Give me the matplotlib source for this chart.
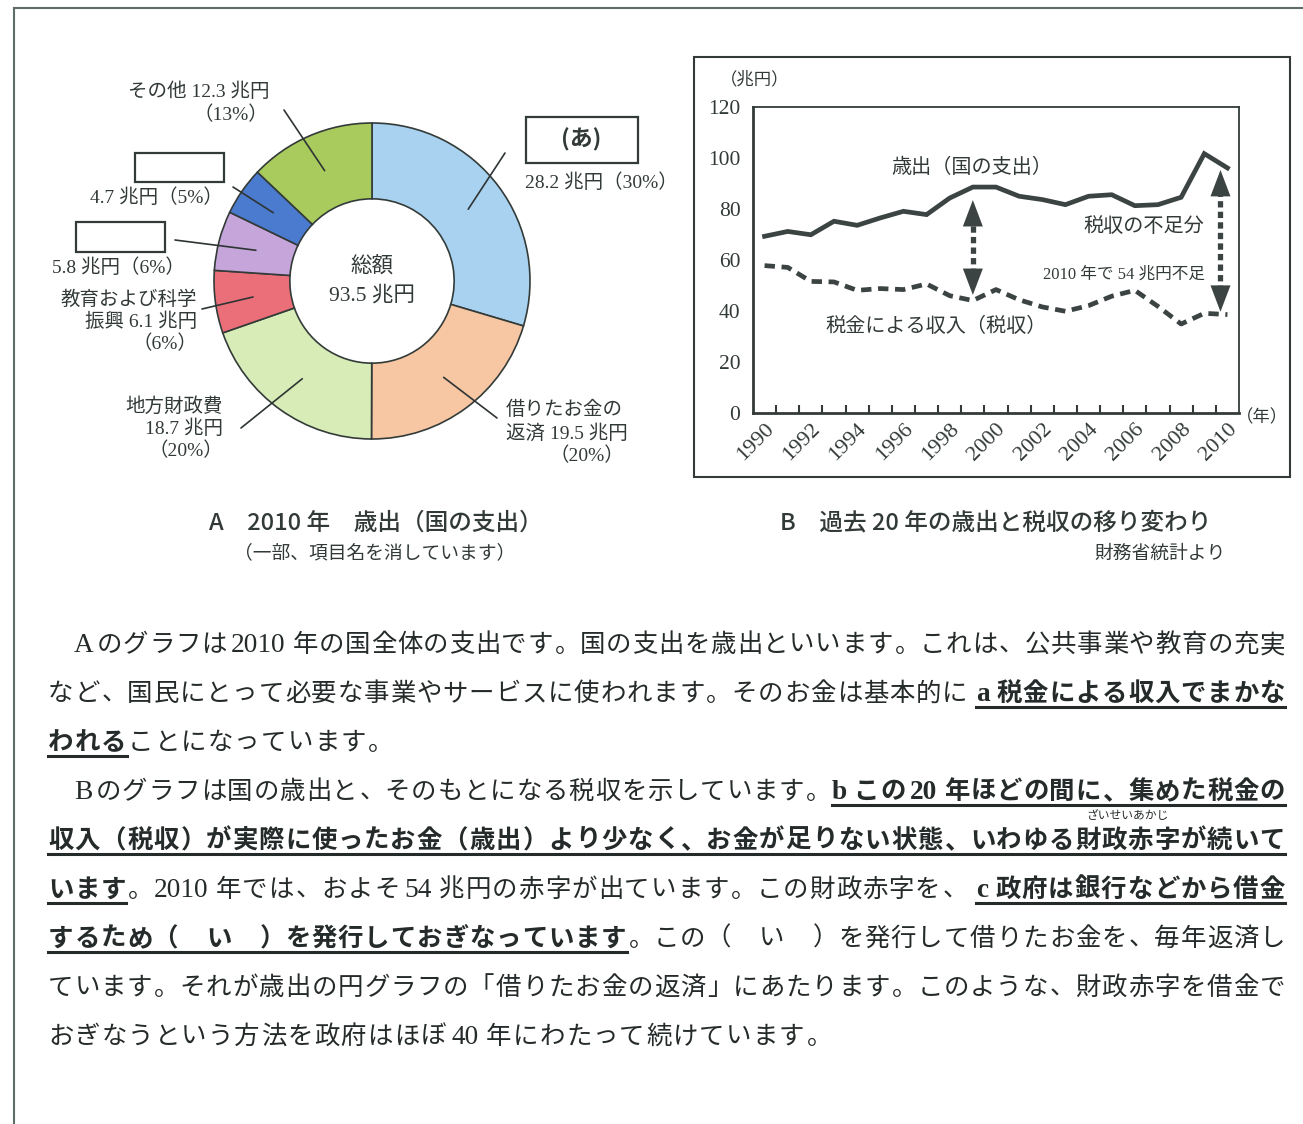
import numpy as np
import matplotlib
matplotlib.use("Agg")
import matplotlib.pyplot as plt
from matplotlib.patches import Rectangle
from matplotlib.lines import Line2D

W, H = 1303, 1124
JP = ["Noto Sans CJK JP", "DejaVu Sans"]
MIX = ["Liberation Serif", "Noto Sans CJK JP", "DejaVu Sans"]
INK = "#323a38"

# --- data: A (2010 expenditure, trillion yen) ---
pie_values = [28.2, 19.5, 18.7, 6.1, 5.8, 4.7, 12.3]
pie_colors = ["#a9d2f1", "#f7c6a3", "#d7ecb6", "#ea6f79", "#c6a6da", "#4b7bcf", "#a9cb5d"]

# --- data: B (expenditure vs tax revenue) ---
years = list(range(1990, 2011))
expenditure = [69.3, 71.2, 69.9, 75.2, 73.6, 76.5, 79.1, 77.8, 84.3, 88.6, 88.6,
               85.0, 83.7, 81.7, 85.0, 85.6, 81.3, 81.7, 84.6, 101.7, 96.1]
tax_revenue = [57.8, 57.1, 51.6, 51.4, 48.1, 48.8, 48.4, 50.6, 46.0, 44.1, 48.4,
               44.4, 41.6, 39.9, 42.1, 45.8, 48.1, 41.8, 34.9, 39.1, 38.6]
gap_arrows = [(9, 46.3, 83.5), (19.7, 39.7, 95.3)]


def P(x, y):
    # pixel (from top-left) -> figure fraction
    return x / W, 1 - y / H


fig = plt.figure(figsize=(W / 100, H / 100), dpi=100)
fig.patch.set_facecolor("white")

# page border (top + left)
fig.add_artist(Line2D([14 / W, 1], [1 - 8 / H, 1 - 8 / H], color="#5f6d69", lw=1.5))
fig.add_artist(Line2D([14 / W, 14 / W], [0, 1 - 8 / H], color="#5f6d69", lw=1.5))


def ftext(x, y, s, size=13, ha="center", family=MIX, **kw):
    fig.text(*P(x, y), s, ha=ha, va="center", fontsize=size, family=family,
             color=INK, **kw)


# ---------------- A: donut ----------------
cx, cy, R = 372, 281, 158
axp = fig.add_axes([(cx - R) / W, 1 - (cy + R) / H, 2 * R / W, 2 * R / H])
wedges, _ = axp.pie(pie_values, colors=pie_colors, startangle=90, counterclock=False,
                    radius=1, wedgeprops=dict(width=0.48, edgecolor="#333b39", linewidth=1.2))
axp.set_xlim(-1, 1)
axp.set_ylim(-1, 1)
axp.axis("off")

# leader line ends (text side, pixels) for each wedge
leader_ends = [(505, 153), (497, 418), (241, 428), (202, 309), (175, 240), (233, 187), (284, 110)]
for w, end in zip(wedges, leader_ends):
    mid = np.deg2rad((w.theta1 + w.theta2) / 2)
    r = 0.76
    axp.annotate("", xy=(r * np.cos(mid), r * np.sin(mid)), xycoords="data",
                 xytext=P(*end), textcoords="figure fraction",
                 arrowprops=dict(arrowstyle="-", color="#2e3534", lw=1.2,
                                 shrinkA=0, shrinkB=0), annotation_clip=False)

ftext(372, 267, "総額", 15.5)
ftext(372, 296, "93.5 兆円", 15.5)

LS = 14
ftext(270, 92, "その他 12.3 兆円", LS, ha="right")
ftext(268, 115, "（13%）", LS, ha="right")
ftext(525, 183, "28.2 兆円（30%）", LS, ha="left")
ftext(223, 198, "4.7 兆円（5%）", LS, ha="right")
ftext(52, 268, "5.8 兆円（6%）", LS, ha="left")
ftext(197, 300, "教育および科学", LS, ha="right")
ftext(197, 322, "振興 6.1 兆円", LS, ha="right")
ftext(197, 344, "（6%）", LS, ha="right")
ftext(223, 407, "地方財政費", LS, ha="right")
ftext(223, 429, "18.7 兆円", LS, ha="right")
ftext(223, 451, "（20%）", LS, ha="right")
ftext(506, 410, "借りたお金の", LS, ha="left")
ftext(506, 433, "返済 19.5 兆円", LS, ha="left")
ftext(624, 456, "（20%）", LS, ha="right")

for (x0, y0, x1, y1) in [(526, 117, 638, 163), (135, 153, 224, 182), (76, 222, 165, 252)]:
    fig.add_artist(Rectangle(P(x0, y1), (x1 - x0) / W, (y1 - y0) / H,
                             transform=fig.transFigure, fill=False, ec="#333b39", lw=1.6))
ftext(581, 140, "(あ)", 16.5, family=JP, fontweight="bold")

# captions
ftext(376, 523, "A　2010 年　歳出（国の支出）", 17, family=JP, fontweight="medium")
ftext(375, 553, "（一部、項目名を消しています）", 13.5)
ftext(996, 523, "B　過去 20 年の歳出と税収の移り変わり", 17, family=JP, fontweight="medium")
ftext(1226, 554, "財務省統計より", 13.5, ha="right")

# ---------------- B: line chart ----------------
fig.add_artist(Rectangle(P(694, 477), (1290 - 694) / W, (477 - 57) / H,
                         transform=fig.transFigure, fill=False, ec="#333b39", lw=1.5))
L, T, Rr, B = 753, 107, 1239, 413
ax = fig.add_axes([L / W, 1 - B / H, (Rr - L) / W, (B - T) / H])
idx = np.arange(len(years))
ax.plot(idx, expenditure, color="#3c4443", lw=3.4, solid_joinstyle="miter")
ax.plot(idx, tax_revenue, color="#3c4443", lw=3.4, ls=(0, (2.2, 1.4)))
ax.set_xlim(-0.5, len(years) - 0.5)
ax.set_ylim(0, 120)
for s in ax.spines.values():
    s.set_color("#333b39")
    s.set_linewidth(1.3)
ax.spines["left"].set_linewidth(2)
ax.spines["bottom"].set_linewidth(2)
ax.set_yticks(range(0, 121, 20))
ax.set_yticklabels([str(v) for v in range(0, 121, 20)], family=MIX, fontsize=15.5, color=INK)
ax.tick_params(axis="y", length=0, pad=9)
ax.set_xticks(idx[::2])
ax.set_xticklabels([str(y) for y in years[::2]], rotation=45, ha="right",
                   rotation_mode="anchor", family=MIX, fontsize=16, color=INK)
ax.tick_params(axis="x", length=0, pad=5)
ax.set_xticks(idx[:-1] + 0.5, minor=True)
ax.tick_params(axis="x", which="minor", direction="in", length=6, width=1.5, color="#333b39")

for x, lo, hi in gap_arrows:
    ax.plot([x, x], [lo + 4, hi - 4], color="#3c4443", lw=3.8, ls=(0, (1.2, 0.8)),
            solid_capstyle="butt")
    for tip, d in [(hi, -1), (lo, 1)]:
        ax.annotate("", xy=(x, tip), xytext=(x, tip + d * 0.5),
                    arrowprops=dict(arrowstyle="-|>,head_length=0.95,head_width=0.36",
                                    color="#3c4443", lw=0, mutation_scale=20,
                                    shrinkA=0, shrinkB=0))

ftext(972, 168, "歳出（国の支出）", 14.5)
ftext(1144, 228, "税収の不足分", 14.5)
ftext(1124, 275, "2010 年で 54 兆円不足", 12)
ftext(936, 327, "税金による収入（税収）", 14.5)
ftext(755, 80, "（兆円）", 12.5)
ftext(1262, 418, "（年）", 12.5)

# ---------------- body text ----------------
body_lines = [
    ([("　Aのグラフは 2010 年の国全体の支出です。国の支出を歳出といいます。これは、公共事業や教育の充実", "n")], True),
    ([("など、国民にとって必要な事業やサービスに使われます。そのお金は基本的に  ", "n"), ("a 税金による収入でまかな", "bu")], True),
    ([("われる", "bu"), ("ことになっています。", "n")], False),
    ([("　Bのグラフは国の歳出と、そのもとになる税収を示しています。", "n"), ("b この 20 年ほどの間に、集めた税金の", "bu")], True),
    ([("収入（税収）が実際に使ったお金（歳出）より少なく、お金が足りない状態、いわゆる財政赤字が続いて", "bu")], True),
    ([("います", "bu"), ("。2010 年では、およそ 54 兆円の赤字が出ています。この財政赤字を、  ", "n"), ("c 政府は銀行などから借金", "bu")], True),
    ([("するため（　い　）を発行しておぎなっています", "bu"), ("。この（　い　）を発行して借りたお金を、毎年返済し", "n")], True),
    ([("ています。それが歳出の円グラフの「借りたお金の返済」にあたります。このような、財政赤字を借金で", "n")], True),
    ([("おぎなうという方法を政府はほぼ 40 年にわたって続けています。", "n")], False),
]
line_y = [643, 692, 741, 790, 839, 888, 937, 986, 1035]
ruby = ("ざいせいあかじ", 4, "財政赤字")

renderer = fig.canvas.get_renderer()
BSIZE = 18.3
EM = BSIZE * 100 / 72
X0, X1 = 48, 1285
LEFT_PUNCT = "。、）」"
RIGHT_PUNCT = "（「"
TXT = "#252b2a"


def tokenize(segs):
    toks = []
    for text, st in segs:
        i = 0
        while i < len(text):
            ch = text[i]
            if ch == " ":
                toks.append((" ", st))
                i += 1
            elif ch.isascii():
                j = i
                while j < len(text) and text[j].isascii() and text[j] != " ":
                    j += 1
                toks.append((text[i:j], st))
                i = j
            else:
                toks.append((ch, st))
                i += 1
    return toks


def token_width(tok, st):
    if tok == " ":
        return 0.12 * EM
    if not tok.isascii():
        return EM
    t = fig.text(0, 0, tok, fontsize=BSIZE * 1.08, family=MIX,
                 fontweight="bold" if "b" in st else "normal")
    w = t.get_window_extent(renderer).width
    t.remove()
    return w + 2


for li, ((segs, justify), yc) in enumerate(zip(body_lines, line_y)):
    toks = tokenize(segs)
    widths = [token_width(t, s) for t, s in toks]
    extra = (X1 - X0 - sum(widths)) / (len(toks) - 1) if justify else 1.2
    base = yc + 9
    x = X0
    spans = []
    for (tok, st), w in zip(toks, widths):
        wt = "bold" if "b" in st else "normal"
        if tok.strip():
            size = BSIZE
            if tok.isascii():
                tx, ha = x, "left"
                size = BSIZE * 1.08
            elif tok in LEFT_PUNCT:
                tx, ha = x + 1, "left"
            elif tok in RIGHT_PUNCT:
                tx, ha = x + w - 1, "right"
            else:
                tx, ha = x + w / 2, "center"
            fig.text(*P(tx, base), tok, ha=ha, va="baseline", fontsize=size,
                     family=MIX, fontweight=wt, color=TXT)
        spans.append((x, x + w, st))
        x += w + extra
    # underline runs
    run = None
    for a, b, st in spans + [(None, None, "n")]:
        if "u" in st:
            run = (run[0], b) if run else (a, b)
        elif run:
            fig.add_artist(Line2D([run[0] / W, run[1] / W], [1 - (yc + 15) / H] * 2,
                                  color=TXT, lw=2.2))
            run = None
    if li == 4:
        joined = [t for t, _ in toks]
        k = "".join(joined).find(ruby[2])
        xs = spans[k][0]
        xe = spans[k + len(ruby[2]) - 1][1]
        fig.text(*P((xs + xe) / 2, yc - 24), ruby[0], ha="center", va="center",
                 fontsize=8.5, family=JP, color=TXT)

fig.savefig("out.png", dpi=100, facecolor="white")
